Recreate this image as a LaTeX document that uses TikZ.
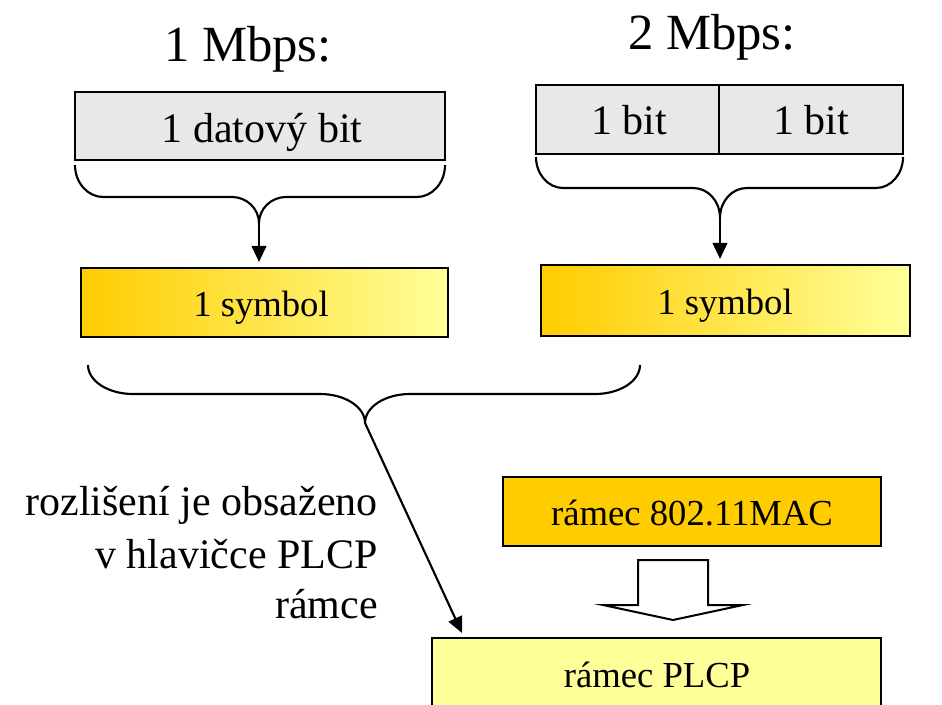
\documentclass[tikz,border=0pt]{standalone}
\usepackage{fontspec}
\setmainfont{Liberation Serif}
\usetikzlibrary{arrows.meta}
\definecolor{boxgray}{HTML}{E8E8E8}
\definecolor{gold}{HTML}{FFCC00}
\definecolor{pale}{HTML}{FFFF99}
\begin{document}
\begin{tikzpicture}[x=0.75pt,y=-0.75pt,
  box/.style={draw=black, line width=1.6pt, inner sep=0pt, rectangle},
  grad/.style={box, left color=gold, right color=pale, shading angle=90},
  txt/.style={anchor=base, inner sep=0pt},
  conn/.style={line width=1.6pt},
  arr/.style={conn, -{Triangle[length=12pt,width=11pt]}},
  big/.style={font=\fontsize{38}{44}\selectfont},
  mid/.style={font=\fontsize{31.5}{36}\selectfont},
  sml/.style={font=\fontsize{27.5}{32}\selectfont}]
\useasboundingbox (0,0) rectangle (942,705);
\clip (0,0) rectangle (942,705);

% titles
\node[txt, big] (t1) at (248,62) {1 Mbps:};
\node[txt, big] (t2) at (712,50) {2 Mbps:};

% top boxes
\node[box, fill=boxgray, minimum width=277.5pt, minimum height=51pt] (data) at (260,126) {};
\node[txt, mid] (datat) at (262,143) {1 datový bit};

\node[box, fill=boxgray, minimum width=137.25pt, minimum height=51.75pt] (bitA) at (627.5,119.5) {};
\node[box, fill=boxgray, minimum width=138pt, minimum height=51.75pt] (bitB) at (811,119.5) {};
\node[txt, mid] (bitAt) at (629,135) {1 bit};
\node[txt, mid] (bitBt) at (811,135) {1 bit};

% symbol boxes
\node[grad, minimum width=275.25pt, minimum height=51.75pt] (sym1) at (264.5,302.5) {};
\node[txt, sml] (sym1t) at (261,317) {1 symbol};
\node[grad, minimum width=276.75pt, minimum height=53.25pt] (sym2) at (725.5,300.5) {};
\node[txt, sml] (sym2t) at (725,315) {1 symbol};

% braces
\coordinate (tipA) at (259,223);
\coordinate (tipB) at (720,218);
\coordinate (tipC) at (365,423);
\draw[conn] (75,165) .. controls (75,183) and (88,197) .. (103,197) -- (232,197)
  .. controls (247,197) and (259,209) .. (tipA)
  .. controls (259,209) and (271,197) .. (286,197) -- (417,197)
  .. controls (432,197) and (445,183) .. (445,165);
\draw[conn] (536,157) .. controls (536,174) and (548,188) .. (563,188) -- (693,188)
  .. controls (708,188) and (720,201) .. (tipB)
  .. controls (720,201) and (732,188) .. (747,188) -- (876,188)
  .. controls (891,188) and (903,174) .. (903,157);
\draw[conn] (88,365) .. controls (88,381) and (108,394) .. (133,394) -- (320,394)
  .. controls (345,394) and (365,407) .. (tipC)
  .. controls (365,407) and (385,394) .. (410,394) -- (595,394)
  .. controls (620,394) and (640,381) .. (640,365);

\draw[arr, shorten >=3.75pt] (tipA) -- (tipA |- sym1.north);
\draw[arr, shorten >=3.75pt] (tipB) -- (tipB |- sym2.north);

% lower part
\node[box, fill=gold, minimum width=283.5pt, minimum height=51.75pt] (mac) at (692,511.5) {};
\node[txt, sml] (mact) at (692,525) {rámec 802.11MAC};
\node[box, fill=pale, minimum width=336.75pt, minimum height=75pt] (plcp) at (656.5,688) {};
\node[txt, sml] (plcpt) at (657,687) {rámec PLCP};

\coordinate (arrEnd) at (462,633);
\draw[arr] (tipC) -- (arrEnd);

\draw[line width=1.5pt, fill=white] (638,560) -- (708,560) -- (708,605) -- (743,605)
  -- (673,620) -- (603,605) -- (638,605) -- cycle;

\node[txt, mid, anchor=base east] (n1) at (378,515) {rozlišení je obsaženo};
\node[txt, mid, anchor=base east] (n2) at (378,568) {v hlavičce PLCP};
\node[txt, mid, anchor=base east] (n3) at (378,618) {rámce};
\end{tikzpicture}
\end{document}
